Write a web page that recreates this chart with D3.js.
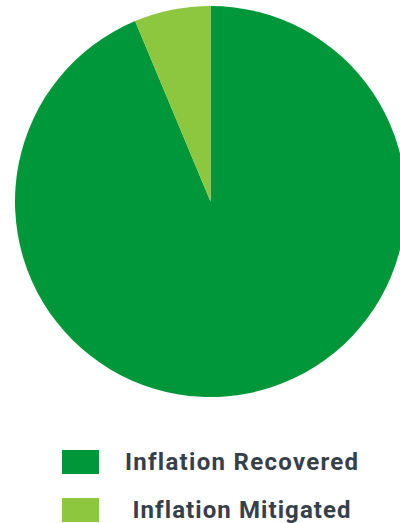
<!DOCTYPE html>
<html>
<head>
<meta charset="utf-8">
<script src="https://cdn.jsdelivr.net/npm/d3@7"></script>
<style>
  body { margin: 0; background: #fff; }
  svg { display: block; }
  .legend-label { font-family: Roboto, sans-serif; font-weight: 700; fill: #36404a; }
</style>
</head>
<body>
<svg id="chart" width="400" height="523"></svg>
<script>
"use strict";

// values (share of total, %)
const categories = ['Inflation Recovered', 'Inflation Mitigated'];
const values = [93.7, 6.3];
const colors = ['#00963a', '#8dc63f'];

const svg = d3.select('#chart');

const center = { x: 210.5, y: 201.5 };
const radius = 195.5;

const pie = d3.pie().sort(null).value(d => d.value);
const arc = d3.arc().innerRadius(0).outerRadius(radius);

const slices = categories.map((name, i) => ({ name, value: values[i], color: colors[i] }));

svg.append('g')
    .attr('transform', `translate(${center.x},${center.y})`)
    .selectAll('path')
    .data(pie(slices))
    .enter()
    .append('path')
    .attr('d', arc)
    .attr('fill', d => d.data.color);

// legend
const legendY = d3.scaleBand().domain(categories).range([450, 522]).paddingInner(0.5);
const targetWidths = [233, 218];

const legend = svg.append('g')
    .selectAll('g')
    .data(slices)
    .enter()
    .append('g');

legend.append('rect')
    .attr('x', 62)
    .attr('y', d => legendY(d.name))
    .attr('width', 37)
    .attr('height', legendY.bandwidth())
    .attr('fill', d => d.color);

legend.append('text')
    .classed('legend-label', true)
    .attr('x', 241.5)
    .attr('y', d => legendY(d.name) + legendY.bandwidth() / 2 + 8)
    .attr('text-anchor', 'middle')
    .style('font-size', '24px')
    .text(d => d.name)
    .each(function(d, i) {
        // spread letters so the label spans the same width as in the picture
        const n = d.name.length;
        const w = this.getComputedTextLength();
        const spacing = (targetWidths[i] - w) / (n - 1);
        d3.select(this).style('letter-spacing', `${spacing}px`)
            .attr('x', 241.5 + spacing / 2);
    });
</script>
</body>
</html>
